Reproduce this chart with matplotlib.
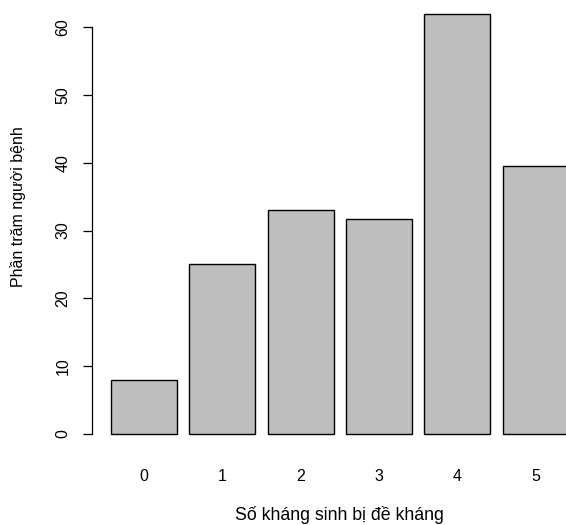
import matplotlib
matplotlib.use("Agg")
import matplotlib.pyplot as plt

# data (R barplot style)
categories = ["0", "1", "2", "3", "4", "5"]
percent = [8.0, 25.0, 33.0, 31.7, 62.0, 39.5]
yticks = [0, 10, 20, 30, 40, 50, 60]

plt.rcParams["font.family"] = ["Liberation Sans", "DejaVu Sans"]
FS = 11.5

fig = plt.figure(figsize=(5.66, 5.25), dpi=100)
# axes spans pixel x 92..566, y 0..450 of the 566x525 canvas
ax = fig.add_axes([92 / 566, 75 / 525, 474 / 566, 450 / 525])

pos = list(range(len(categories)))
ax.bar(pos, percent, width=0.843, color="#bebebe", edgecolor="black", linewidth=1.0)

ax.set_xlim(-0.664, 5.389)
ax.set_ylim(-2.36, 64.01)

for side in ("top", "right", "bottom"):
    ax.spines[side].set_visible(False)
ax.spines["left"].set_bounds(0, 60)
ax.spines["left"].set_linewidth(0.9)

ax.set_yticks(yticks)
ax.set_yticklabels([str(t) for t in yticks], rotation=90, va="center", fontsize=FS)
ax.tick_params(axis="y", direction="out", length=6.5, width=0.9, pad=9)

ax.set_xticks(pos)
ax.set_xticklabels(categories, fontsize=FS)
ax.tick_params(axis="x", length=0, pad=14)

ax.set_xlabel("Số kháng sinh bị đề kháng", fontsize=12.8)
ax.xaxis.set_label_coords(0.521, -0.144)
ax.xaxis.label.set_va("center")
ax.set_ylabel("Phần trăm người bệnh", fontsize=FS)
ax.yaxis.set_label_coords(-0.156, 0.54)
ax.yaxis.label.set_va("center")

fig.savefig("out.png", dpi=100)
